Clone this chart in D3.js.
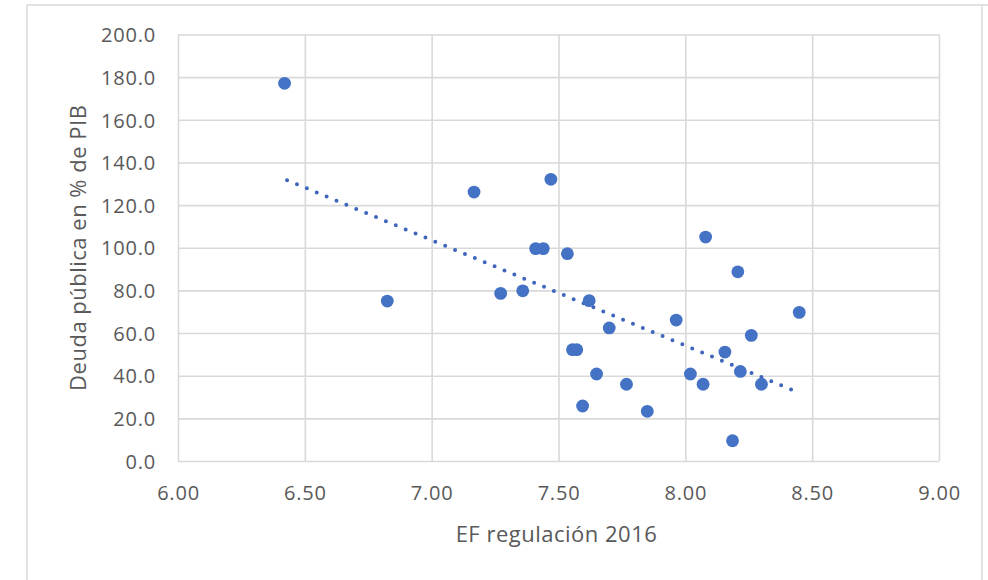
<!DOCTYPE html>
<html>
<head>
<meta charset="utf-8">
<script src="https://cdn.jsdelivr.net/npm/d3@7/dist/d3.min.js"></script>
<style>
  html, body { margin: 0; padding: 0; background: #ffffff; }
  svg { display: block; }
  .tick text { font-family: "Open Sans", sans-serif; fill: #595959; }
</style>
</head>
<body>
<svg id="chart" width="988" height="580"></svg>
<script>
// EF regulation score (2016) per country
const efRegulacion = [
  6.42, 6.825, 7.167, 7.272, 7.359, 7.41, 7.44, 7.47, 7.535, 7.555,
  7.572, 7.595, 7.621, 7.65, 7.70, 7.768, 7.85, 7.964, 8.02, 8.07,
  8.08, 8.156, 8.186, 8.207, 8.217, 8.26, 8.30, 8.449
];
// Public debt, % of GDP
const deudaPublica = [
  177.1, 75.0, 126.1, 78.6, 79.8, 99.6, 99.6, 132.1, 97.2, 52.2,
  52.2, 25.8, 75.2, 40.8, 62.4, 36.0, 23.3, 66.1, 40.8, 36.0,
  105.0, 51.1, 9.5, 88.7, 42.0, 58.9, 36.0, 69.7
];
// Linear trend line endpoints
const trendX = [6.43, 8.42];
const trendY = [131.7, 33.4];

const xTicks = [6.0, 6.5, 7.0, 7.5, 8.0, 8.5, 9.0];
const yTicks = [0, 20, 40, 60, 80, 100, 120, 140, 160, 180, 200];

const xTitle = "EF regulación 2016";
const yTitle = "Deuda pública en % de PIB";

const svg = d3.select("#chart");
const W = 988, H = 580;
const plot = { left: 178, right: 939, top: 34.5, bottom: 461 };

const blue = "#4472C4";
const trendBlue = "#3f66bb";
const grid = "#d9d9d9";
const textCol = "#595959";

svg.append("rect").attr("width", W).attr("height", H).attr("fill", "#fff");

// chart area outline
svg.append("path")
  .attr("d", `M27,${H + 2} L27,5 L982,5 L982,${H + 2}`)
  .attr("fill", "none").attr("stroke", "#dadada").attr("stroke-width", 1.5);
svg.append("line")
  .attr("x1", 982).attr("x2", W).attr("y1", 5).attr("y2", 5)
  .attr("stroke", "#dadada").attr("stroke-width", 1.5);

const x = d3.scaleLinear().domain([6, 9]).range([plot.left, plot.right]);
const y = d3.scaleLinear().domain([0, 200]).range([plot.bottom, plot.top]);

// y axis with horizontal gridlines
const yAxis = svg.append("g")
  .attr("transform", `translate(${plot.left},0)`)
  .call(d3.axisLeft(y).tickValues(yTicks).tickFormat(d3.format(".1f"))
    .tickSize(-(plot.right - plot.left)).tickPadding(22));
yAxis.select(".domain").remove();
yAxis.selectAll(".tick line").attr("stroke", grid).attr("stroke-width", 1.6);
yAxis.selectAll(".tick text")
  .attr("font-size", 20).attr("letter-spacing", "0.8px")
  .attr("dy", "0.36em").attr("fill", textCol);

// x axis with vertical gridlines
const xAxis = svg.append("g")
  .attr("transform", `translate(0,${plot.bottom})`)
  .call(d3.axisBottom(x).tickValues(xTicks).tickFormat(d3.format(".2f"))
    .tickSize(-(plot.bottom - plot.top)).tickPadding(24.5));
xAxis.select(".domain").remove();
xAxis.selectAll(".tick line").attr("stroke", grid).attr("stroke-width", 1.6);
xAxis.selectAll(".tick text")
  .attr("font-size", 20).attr("letter-spacing", "0.8px")
  .attr("dy", "0.71em").attr("fill", textCol);

// axis titles
svg.append("text")
  .attr("x", (plot.left + plot.right) / 2 - 2).attr("y", 541.5)
  .attr("text-anchor", "middle")
  .attr("font-family", "Open Sans, sans-serif").attr("font-size", 22)
  .attr("letter-spacing", "0.5px").attr("fill", textCol)
  .text(xTitle);

svg.append("text")
  .attr("transform", `translate(86,${(plot.top + plot.bottom) / 2}) rotate(-90)`)
  .attr("text-anchor", "middle")
  .attr("font-family", "Open Sans, sans-serif").attr("font-size", 22)
  .attr("letter-spacing", "0.5px").attr("fill", textCol)
  .text(yTitle);

// trend line (round dots)
const trend = trendX.map((d, i) => [d, trendY[i]]);
svg.append("path")
  .datum(trend)
  .attr("d", d3.line().x(d => x(d[0])).y(d => y(d[1])))
  .attr("fill", "none").attr("stroke", trendBlue).attr("stroke-width", 4)
  .attr("stroke-linecap", "round").attr("stroke-dasharray", "0 10.7");

// scatter points
const pts = efRegulacion.map((d, i) => ({ x: d, y: deudaPublica[i] }));
svg.append("g").selectAll("circle")
  .data(pts).join("circle")
  .attr("cx", d => x(d.x)).attr("cy", d => y(d.y))
  .attr("r", 6.4).attr("fill", blue);
</script>
</body>
</html>
